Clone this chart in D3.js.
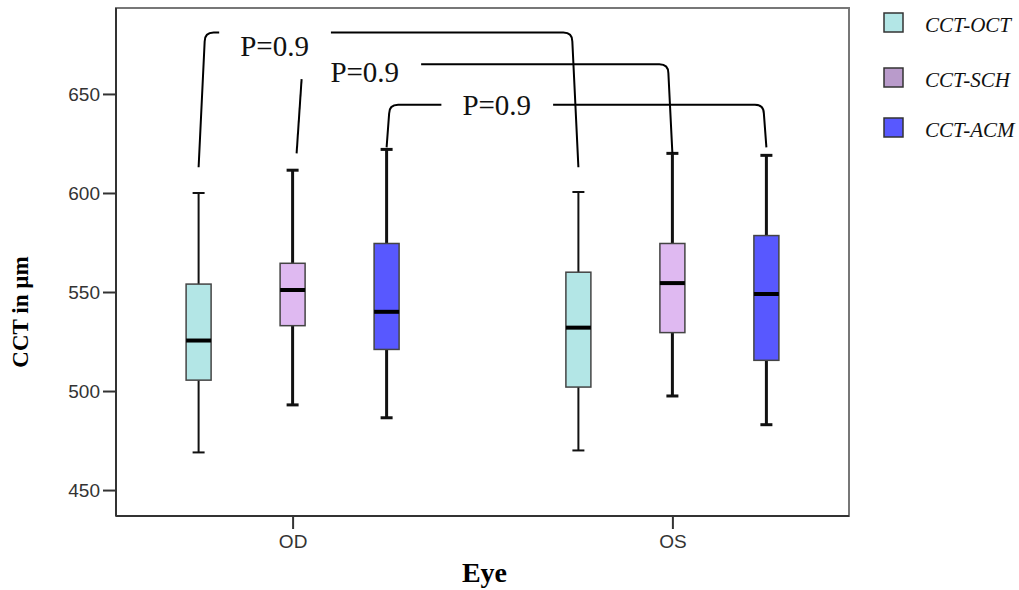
<!DOCTYPE html>
<html>
<head>
<meta charset="utf-8">
<script src="https://cdn.jsdelivr.net/npm/d3@7/dist/d3.min.js"></script>
<style>
  body { margin: 0; background: #fff; }
  svg { display: block; }
</style>
</head>
<body>
<div id="chart"></div>
<script>
// Categories
const groups = ["OD", "OS"];
const series = ["CCT-OCT", "CCT-SCH", "CCT-ACM"];

// Five-number summaries, one row per series, [OD, OS]
const whiskerLow = [[469, 470], [493, 497.5], [486.5, 483]];
const q1 = [[505.5, 502], [533, 529.5], [521, 515.5]];
const median = [[525.5, 532], [551, 554.5], [540, 549]];
const q3 = [[554, 560], [564.5, 574.5], [574.5, 578.5]];
const whiskerHigh = [[600, 600.5], [611.5, 620], [622, 619]];

const yTicks = [450, 500, 550, 600, 650];

// P-value brackets (OD -> OS for each series), y in µm
const bracketSeries = ["CCT-OCT", "CCT-SCH", "CCT-ACM"];
const bracketFoot = [613, 620, 623];
const bracketTop = [681, 665, 644.5];
const bracketLabel = ["P=0.9", "P=0.9", "P=0.9"];
const bracketLabelY = [669, 656, 639.5];
const bracketLabelAt = [0.2, 0.19, 0.29];
const bracketOpenLeft = [false, true, false];

const width = 1019, height = 590;
const margin = { left: 116, right: 170, top: 8, bottom: 74 };

const fills = { "CCT-OCT": "#b3e6e6", "CCT-SCH": "#dfb9f1", "CCT-ACM": "#5858ff" };
const legendFills = { "CCT-OCT": "#b3e6e6", "CCT-SCH": "#b99bcb", "CCT-ACM": "#5858ff" };
const whiskerW = { "CCT-OCT": 2, "CCT-SCH": 3, "CCT-ACM": 3 };

const svg = d3.select("#chart").append("svg")
  .attr("width", width)
  .attr("height", height);

const x0 = margin.left, x1 = width - margin.right;
const y0 = height - margin.bottom, y1 = margin.top;

const x = d3.scalePoint().domain(groups).range([x0, x1]).padding(0.465);
const xs = d3.scalePoint().domain(series).range([-94, 94]);
const y = d3.scaleLinear().domain([436.9, 693.4]).range([y0, y1]);

const cx = (g, s) => x(g) + xs(s);

// Frame
svg.append("rect")
  .attr("x", x0).attr("y", y1)
  .attr("width", x1 - x0).attr("height", y0 - y1)
  .attr("fill", "none").attr("stroke", "#777").attr("stroke-width", 2);

// Axes
const yAxis = svg.append("g")
  .attr("transform", `translate(${x0},0)`)
  .call(d3.axisLeft(y).tickValues(yTicks).tickSize(13).tickPadding(3).tickFormat(d3.format("d")));
const xAxis = svg.append("g")
  .attr("transform", `translate(0,${y0})`)
  .call(d3.axisBottom(x).tickSize(13).tickPadding(6));

[yAxis, xAxis].forEach(a => {
  a.select(".domain").attr("stroke", "#333").attr("stroke-width", 2);
  a.selectAll(".tick line").attr("stroke", "#333").attr("stroke-width", 2);
  a.selectAll(".tick text")
    .attr("fill", "#333")
    .style("font-family", "'Liberation Sans', Arial, sans-serif")
    .style("font-size", "19px");
});
xAxis.select(".domain").attr("d", `M${x0},0H${x1}`);
yAxis.select(".domain").attr("d", `M0,${y0}V${y1}`);

// Axis titles
svg.append("text")
  .attr("x", (x0 + x1) / 2 + 2)
  .attr("y", 582)
  .attr("text-anchor", "middle")
  .style("font-family", "'Liberation Serif', 'Times New Roman', serif")
  .style("font-weight", "bold")
  .style("font-size", "28px")
  .text("Eye");

svg.append("text")
  .attr("transform", "translate(28,312) rotate(-90)")
  .attr("text-anchor", "middle")
  .style("font-family", "'Liberation Serif', 'Times New Roman', serif")
  .style("font-weight", "bold")
  .style("font-size", "23px")
  .text("CCT in µm");

// Boxes
const boxes = [];
series.forEach((s, i) => groups.forEach((g, j) => {
  boxes.push({ g, s, lo: whiskerLow[i][j], q1: q1[i][j], med: median[i][j], q3: q3[i][j], hi: whiskerHigh[i][j] });
}));

const boxW = 25, capW = 12;
const bg = svg.append("g").selectAll("g")
  .data(boxes)
  .join("g");

bg.append("line")
  .attr("x1", d => cx(d.g, d.s)).attr("x2", d => cx(d.g, d.s))
  .attr("y1", d => y(d.hi)).attr("y2", d => y(d.q3))
  .attr("stroke", "#111").attr("stroke-width", d => whiskerW[d.s]);
bg.append("line")
  .attr("x1", d => cx(d.g, d.s)).attr("x2", d => cx(d.g, d.s))
  .attr("y1", d => y(d.q1)).attr("y2", d => y(d.lo))
  .attr("stroke", "#111").attr("stroke-width", d => whiskerW[d.s]);
bg.selectAll(".cap")
  .data(d => [d.hi, d.lo].map(v => ({ ...d, v })))
  .join("line")
  .attr("x1", d => cx(d.g, d.s) - capW / 2).attr("x2", d => cx(d.g, d.s) + capW / 2)
  .attr("y1", d => y(d.v)).attr("y2", d => y(d.v))
  .attr("stroke", "#111").attr("stroke-width", d => whiskerW[d.s]);

bg.append("rect")
  .attr("x", d => cx(d.g, d.s) - boxW / 2)
  .attr("y", d => y(d.q3))
  .attr("width", boxW)
  .attr("height", d => y(d.q1) - y(d.q3))
  .attr("fill", d => fills[d.s])
  .attr("stroke", "#444").attr("stroke-width", 1.5);

bg.append("line")
  .attr("x1", d => cx(d.g, d.s) - boxW / 2).attr("x2", d => cx(d.g, d.s) + boxW / 2)
  .attr("y1", d => y(d.med)).attr("y2", d => y(d.med))
  .attr("stroke", "#000").attr("stroke-width", 4);

// P-value brackets
const ann = svg.append("g");
bracketSeries.forEach((s, i) => {
  const xl = cx("OD", s), xr = cx("OS", s);
  const yf = y(bracketFoot[i]), yt = y(bracketTop[i]);
  const slant = Math.max(2.5, (yf - yt) * 0.045), r = 9;

  const tx = xl + (xr - xl) * bracketLabelAt[i];
  const t = ann.append("text")
    .attr("x", tx)
    .attr("y", y(bracketLabelY[i]))
    .attr("text-anchor", "middle")
    .style("font-family", "'Liberation Serif', 'Times New Roman', serif")
    .style("font-size", "29px")
    .attr("fill", "#111")
    .text(bracketLabel[i]);
  const tw = t.node().getComputedTextLength();
  const gapL = tx - tw / 2 - 21, gapR = tx + tw / 2 + 22;

  const left = bracketOpenLeft[i]
    ? `M${xl + 4},${yf}L${xl + 9},${y(bracketLabelY[i]) - 3}`
    : `M${xl},${yf}L${xl + slant},${yt + r}Q${xl + slant},${yt} ${xl + slant + r},${yt}H${gapL}`;
  const right = `M${gapR},${yt}H${xr - slant - r}Q${xr - slant},${yt} ${xr - slant},${yt + r}L${xr},${yf}`;

  ann.selectAll(null)
    .data([left, right])
    .join("path")
    .attr("d", d => d)
    .attr("fill", "none")
    .attr("stroke", "#000")
    .attr("stroke-width", 2);
});

// Legend
const legend = svg.append("g").selectAll("g")
  .data(series)
  .join("g")
  .attr("transform", (d, i) => `translate(884,${[13, 68, 118][i]})`);

legend.append("rect")
  .attr("width", 19).attr("height", 19)
  .attr("fill", d => legendFills[d])
  .attr("stroke", "#333").attr("stroke-width", 1.5);

legend.append("text")
  .attr("x", 41).attr("y", 19)
  .style("font-family", "'Liberation Serif', 'Times New Roman', serif")
  .style("font-style", "italic")
  .style("font-size", "21px")
  .attr("fill", "#111")
  .text(d => d);
</script>
</body>
</html>
